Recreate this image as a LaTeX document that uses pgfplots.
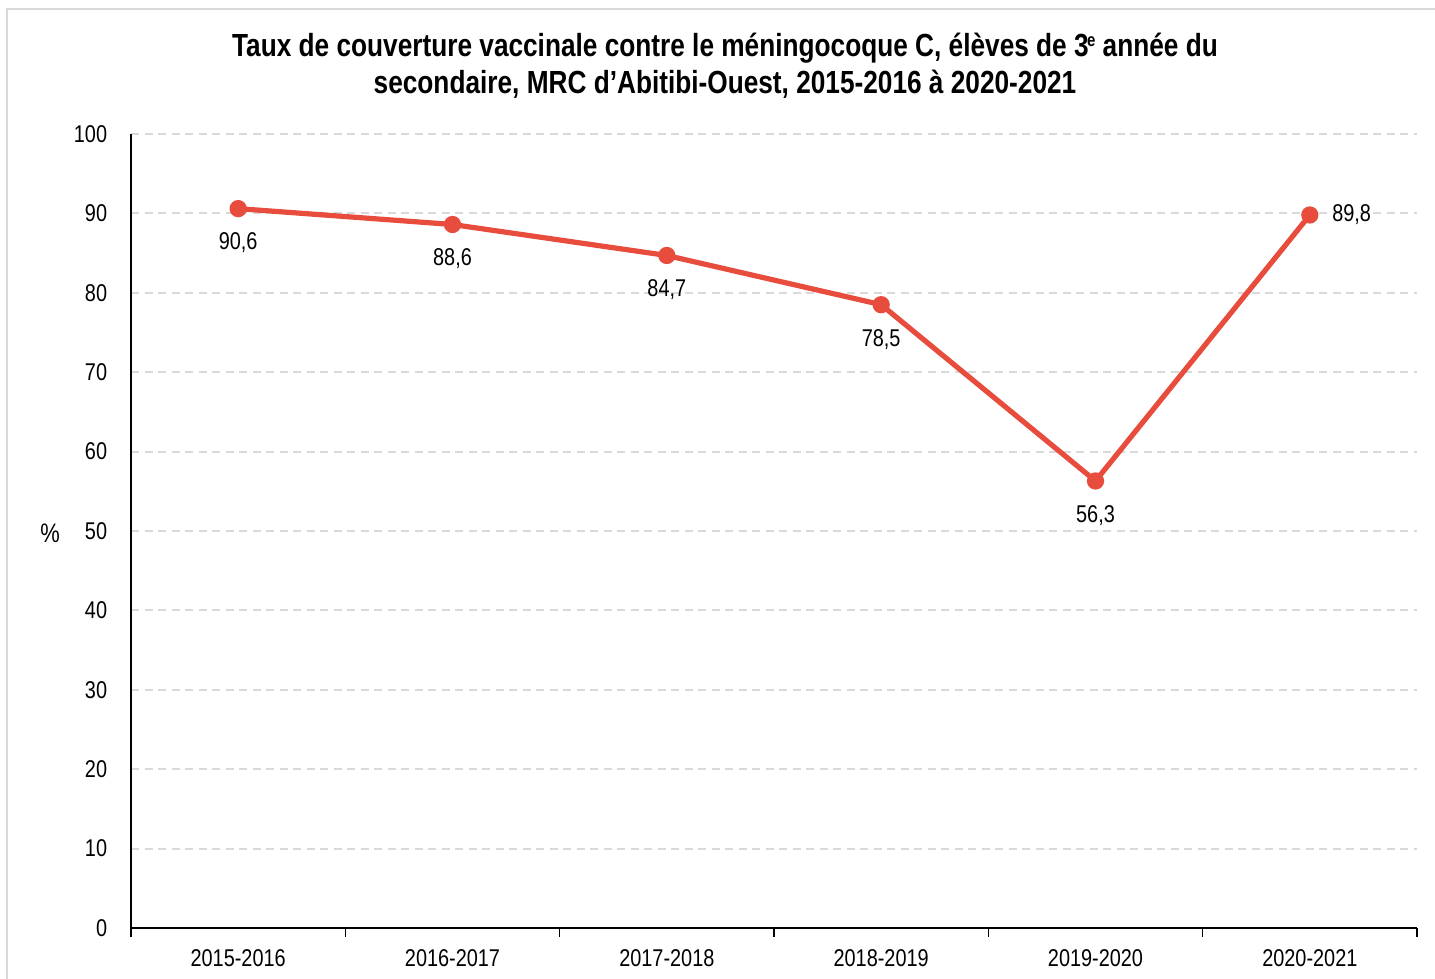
\documentclass[border=0pt]{standalone}
\usepackage{pgfplots}
\pgfplotsset{compat=1.18}
\usepackage{fontspec}
\setmainfont{Liberation Sans}[FakeStretch=0.82]
\definecolor{lineRed}{RGB}{232,76,61}
\definecolor{gridGray}{RGB}{217,217,217}
\begin{document}
\begin{tikzpicture}
\useasboundingbox (0mm,0mm) rectangle (143.5mm,97.9mm);
\draw[gridGray, line width=0.22mm] (0.7mm,-2mm) -- (0.7mm,97.0mm) -- (146mm,97.0mm);
\node[align=center, font=\bfseries\fontsize{9.1}{10.4}\selectfont] at (72.5mm,91.3mm)
  {Taux de couverture vaccinale contre le méningocoque C, élèves de 3\kern-0.05em\raisebox{0.62ex}{\fontsize{5.2}{5.2}\selectfont e} année du\\secondaire, MRC d’Abitibi-Ouest, 2015-2016 à 2020-2021};
\node[font=\fontsize{7.6}{9}\selectfont] at (5.0mm,44.6mm) {\%};
\begin{axis}[
  at={(13.1mm,5.1mm)}, anchor=south west,
  scale only axis, width=128.6mm, height=79.4mm,
  xmin=-0.5, xmax=5.5, ymin=0, ymax=100,
  axis x line*=bottom, axis y line*=left,
  axis line style={black, line width=0.45pt},
  xtick={-0.5,0.5,...,5.5}, xticklabels={},
  ytick={0,10,...,100},
  ymajorgrids, grid style={gridGray, line width=0.2mm, dash pattern=on 0.8mm off 0.55mm},
  major tick length=0.9mm, tick align=outside,
  xtick style={black, line width=0.45pt},
  ytick style={draw=none},
  /pgf/number format/assume math mode=true,
  ticklabel style={font=\fontsize{6.9}{8}\selectfont},
  yticklabel style={xshift=-0.25mm},
  extra x ticks={0,1,2,3,4,5},
  extra x tick labels={2015-2016,2016-2017,2017-2018,2018-2019,2019-2020,2020-2021},
  extra x tick style={major tick length=0pt, xticklabel style={yshift=-0.9mm}},
  clip=false,
]
\addplot[lineRed, line width=0.52mm, mark=*, mark size=0.6mm, mark options={solid, fill=lineRed, draw=lineRed}]
  coordinates {(0,90.6) (1,88.6) (2,84.7) (3,78.5) (4,56.3) (5,89.8)};
\addplot[draw=none, mark=none, point meta=explicit symbolic,
  nodes near coords, nodes near coords style={anchor=north, yshift=-1.2mm, font=\fontsize{6.9}{8}\selectfont, text=black}]
  coordinates {(0,90.6) [90,6] (1,88.6) [88,6] (2,84.7) [84,7] (3,78.5) [78,5] (4,56.3) [56,3]};
\addplot[draw=none, mark=none, point meta=explicit symbolic,
  nodes near coords, nodes near coords style={anchor=west, xshift=1.0mm, yshift=0mm, font=\fontsize{6.9}{8}\selectfont, text=black}]
  coordinates {(5,89.8) [89,8]};
\end{axis}
\end{tikzpicture}
\end{document}
